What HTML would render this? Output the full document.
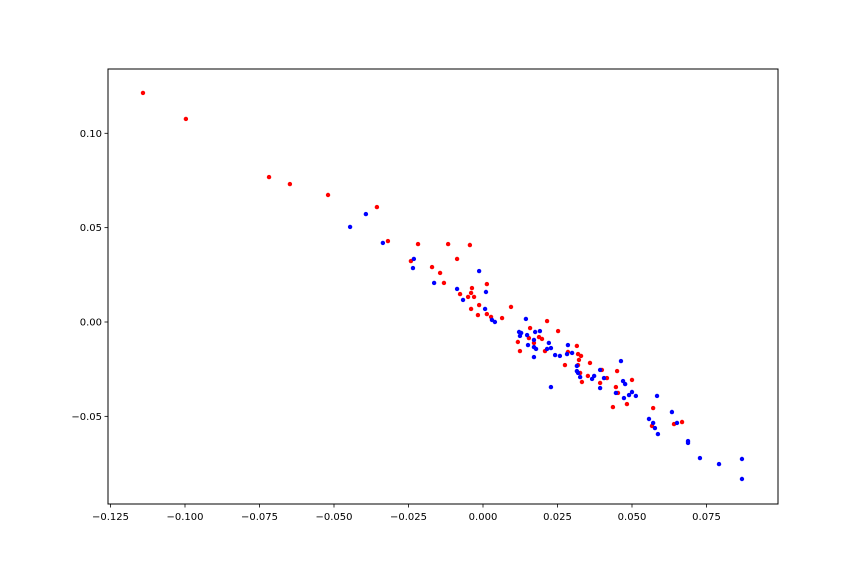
<!DOCTYPE html>
<html><head><meta charset="utf-8"><style>
html,body{margin:0;padding:0;background:#fff;}
svg text{font-family:"DejaVu Sans","Liberation Sans",sans-serif;font-size:10px;fill:#000;}
</style></head>
<body>
<svg id="chart" width="864" height="576" xmlns="http://www.w3.org/2000/svg">
<rect width="864" height="576" fill="#fff"/>
<g id="marks"></g>
<g id="axes"></g>
</svg>
<script>
const redX=[-0.1141,-0.0997,-0.0718,-0.0648,-0.0520,-0.0356,-0.0319,-0.0218,-0.0117,-0.0044,-0.0242,-0.0087,-0.0171,-0.0144,-0.0131,0.0013,-0.0037,-0.0077,-0.0040,-0.0050,-0.0030,-0.0013,-0.0040,-0.0017,0.0094,0.0013,0.0027,0.0064,0.0158,0.0215,0.0252,0.0188,0.0154,0.0198,0.0117,0.0171,0.0124,0.0208,0.0285,0.0315,0.0319,0.0329,0.0322,0.0359,0.0275,0.0319,0.0326,0.0352,0.0332,0.0399,0.0416,0.0393,0.0450,0.0500,0.0446,0.0453,0.0436,0.0483,0.0571,0.0567,0.0641,0.0668];
const redY=[0.1214,0.1076,0.0768,0.0731,0.0673,0.0609,0.0429,0.0413,0.0413,0.0408,0.0323,0.0334,0.0291,0.0260,0.0207,0.0201,0.0180,0.0148,0.0154,0.0133,0.0133,0.0090,0.0069,0.0037,0.0080,0.0042,0.0027,0.0021,-0.0032,0.0005,-0.0048,-0.0080,-0.0085,-0.0090,-0.0106,-0.0111,-0.0154,-0.0154,-0.0159,-0.0127,-0.0170,-0.0180,-0.0201,-0.0217,-0.0228,-0.0228,-0.0270,-0.0286,-0.0318,-0.0254,-0.0297,-0.0323,-0.0260,-0.0307,-0.0345,-0.0376,-0.0451,-0.0435,-0.0456,-0.0551,-0.0541,-0.0530];
const blueX=[-0.0393,-0.0446,-0.0336,-0.0232,-0.0235,-0.0164,-0.0013,-0.0087,-0.0067,0.0010,0.0007,0.0030,0.0040,0.0144,0.0121,0.0128,0.0124,0.0148,0.0175,0.0191,0.0171,0.0151,0.0171,0.0178,0.0171,0.0221,0.0215,0.0228,0.0242,0.0258,0.0285,0.0282,0.0299,0.0315,0.0315,0.0319,0.0326,0.0228,0.0366,0.0373,0.0393,0.0393,0.0406,0.0463,0.0470,0.0477,0.0446,0.0500,0.0490,0.0473,0.0513,0.0584,0.0634,0.0557,0.0571,0.0577,0.0587,0.0651,0.0688,0.0688,0.0728,0.0792,0.0869,0.0869];
const blueY=[0.0572,0.0504,0.0419,0.0334,0.0286,0.0207,0.0270,0.0175,0.0117,0.0159,0.0069,0.0011,0.0000,0.0016,-0.0053,-0.0058,-0.0074,-0.0069,-0.0053,-0.0048,-0.0095,-0.0122,-0.0133,-0.0143,-0.0186,-0.0111,-0.0143,-0.0138,-0.0175,-0.0180,-0.0122,-0.0170,-0.0164,-0.0233,-0.0260,-0.0270,-0.0292,-0.0345,-0.0302,-0.0286,-0.0254,-0.0350,-0.0297,-0.0207,-0.0313,-0.0329,-0.0376,-0.0371,-0.0387,-0.0403,-0.0392,-0.0392,-0.0477,-0.0514,-0.0535,-0.0562,-0.0594,-0.0535,-0.0631,-0.0641,-0.0721,-0.0753,-0.0726,-0.0832];
const xTicks=[-0.125,-0.100,-0.075,-0.050,-0.025,0.000,0.025,0.050,0.075];
const xTickLabels=["\u22120.125","\u22120.100","\u22120.075","\u22120.050","\u22120.025","0.000","0.025","0.050","0.075"];
const yTicks=[-0.05,0.00,0.05,0.10];
const yTickLabels=["\u22120.05","0.00","0.05","0.10"];

const NS="http://www.w3.org/2000/svg";
const L=108,R=778,T=69,B=504;
function xs(v){return 483+v*2980;}
function ys(v){return 322-v*1887;}
const marks=document.getElementById('marks');
const axes=document.getElementById('axes');
function mk(tag,attrs,parent){const e=document.createElementNS(NS,tag);for(const k in attrs)e.setAttribute(k,attrs[k]);parent.appendChild(e);return e;}

for(let i=0;i<redX.length;i++){
  const c=mk('circle',{cx:xs(redX[i]),cy:ys(redY[i]),r:2.2,fill:'#ff0000'},marks);
  
  
}
for(let i=0;i<blueX.length;i++){
  const c=mk('circle',{cx:xs(blueX[i]),cy:ys(blueY[i]),r:2.2,fill:'#0000ff'},marks);
  
  
}
const frame=mk('rect',{x:L,y:T,width:R-L,height:B-T,fill:'none',stroke:'#000','stroke-width':1},axes);


for(let i=0;i<xTicks.length;i++){
  const x=xs(xTicks[i]);
  const t=mk('line',{x1:x,x2:x,y1:B,y2:B+3.5,stroke:'#000','stroke-width':0.8},axes);
  
  
  const lb=mk('text',{x:x,y:B+16,'text-anchor':'middle'},axes);
  lb.textContent=xTickLabels[i];
  
  
}
for(let i=0;i<yTicks.length;i++){
  const y=ys(yTicks[i]);
  const t=mk('line',{x1:L-3.5,x2:L,y1:y,y2:y,stroke:'#000','stroke-width':0.8},axes);
  
  
  const lb=mk('text',{x:L-6,y:y+3.5,'text-anchor':'end'},axes);
  lb.textContent=yTickLabels[i];
  
  
}
</script>
</body></html>
